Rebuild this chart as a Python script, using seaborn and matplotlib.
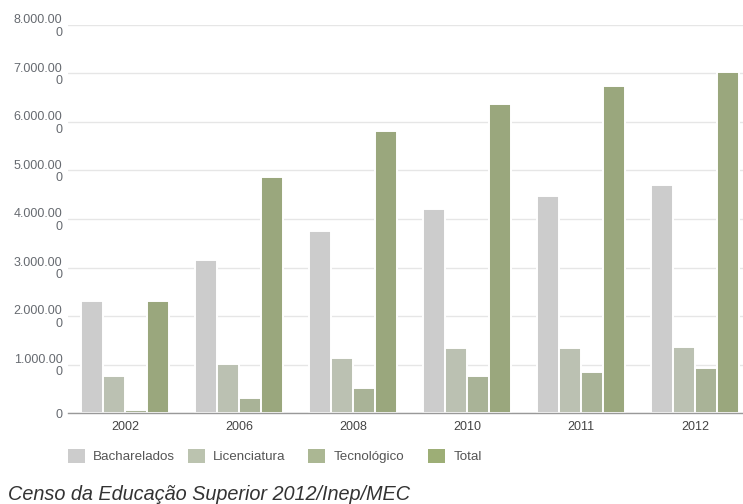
import matplotlib
matplotlib.use("Agg")
import matplotlib.pyplot as plt
import seaborn as sns
import pandas as pd
from matplotlib.patches import Patch

anos = ["2002", "2006", "2008", "2010", "2011", "2012"]
bacharelados = [2315, 3155, 3753, 4213, 4481, 4695]
licenciatura = [763, 1004, 1134, 1334, 1334, 1355]
tecnologico = [62, 303, 515, 763, 852, 922]
total = [2315, 4872, 5814, 6371, 6736, 7031]
categorias = ["Bacharelados", "Licenciatura", "Tecnológico", "Total"]
cores = ["#cccccc", "#bbc3af", "#abb793", "#9dae76"]
ytick_vals = [0, 1000, 2000, 3000, 4000, 5000, 6000, 7000, 8000]
ytick_labels = ["0", "1.000.00\n0", "2.000.00\n0", "3.000.00\n0", "4.000.00\n0",
                "5.000.00\n0", "6.000.00\n0", "7.000.00\n0", "8.000.00\n0"]
fonte = "Censo da Educação Superior 2012/Inep/MEC"

series = [bacharelados, licenciatura, tecnologico, total]
rows = []
for cat, vals in zip(categorias, series):
    for a, v in zip(anos, vals):
        rows.append({"Ano": a, "Valor": v, "Categoria": cat})
df = pd.DataFrame(rows)

sns.set_style("white")
plt.rcParams["font.family"] = ["Liberation Sans", "DejaVu Sans"]

W, H = 743, 504
fig = plt.figure(figsize=(W / 100, H / 100), dpi=100)
left, right = 68, 752
top, bottom = 25, 413
ax = fig.add_axes([left / W, 1 - bottom / H, (right - left) / W, (bottom - top) / H])

sns.barplot(data=df, x="Ano", y="Valor", hue="Categoria", order=anos,
            hue_order=categorias, palette=cores, width=0.77,
            edgecolor="white", linewidth=1.4, ax=ax, legend=False, errorbar=None)

ax.set_xlim(-0.5, 5.5)
ax.set_ylim(0, 8000)
ax.set_yticks(ytick_vals)
ax.set_yticklabels(ytick_labels, fontsize=9, color="#666a70", linespacing=1.05)
ax.tick_params(axis="y", length=0, pad=4)
ax.tick_params(axis="x", length=0, pad=6, labelsize=9, labelcolor="#444444")
for lab in ax.get_yticklabels():
    lab.set_horizontalalignment("right")
ax.grid(axis="y", color="#e6e6e6", linewidth=1)
ax.set_axisbelow(True)
for s in ["top", "right", "left"]:
    ax.spines[s].set_visible(False)
ax.spines["bottom"].set_color("#999999")
ax.spines["bottom"].set_linewidth(1)
ax.set_xlabel("")
ax.set_ylabel("")

# legend entries at fixed column width (120 px), as in the reference
for i, (c, l) in enumerate(zip(cores, categorias)):
    h = Patch(facecolor=c, edgecolor="none", label=l)
    fig.legend(handles=[h], loc="center left",
               bbox_to_anchor=((56 + 120 * i) / W, 1 - 456 / H),
               frameon=False, fontsize=9.6, handlelength=1.25, handleheight=1.25,
               handletextpad=0.65, labelcolor="#555555")

fig.text(8 / W, 1 - 494 / H, fonte, fontsize=14.3, style="italic", color="#333333",
         ha="left", va="center")

fig.savefig("out.png", dpi=100)
